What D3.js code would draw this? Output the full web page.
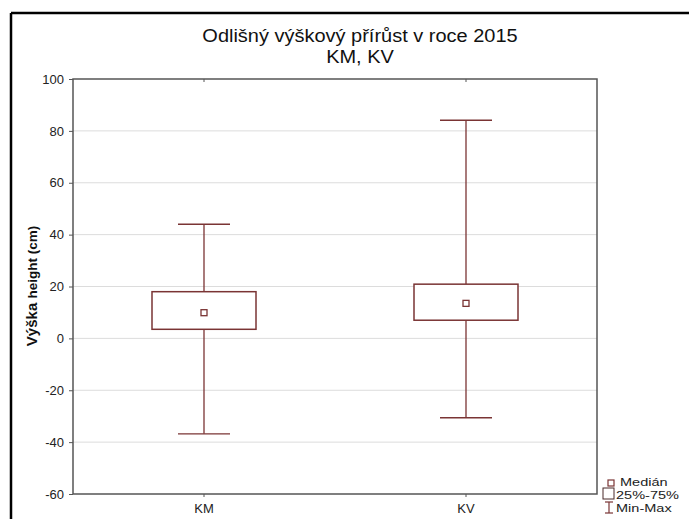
<!DOCTYPE html>
<html>
<head>
<meta charset="utf-8">
<script src="https://cdn.jsdelivr.net/npm/d3@7"></script>
<style>
  html, body { margin: 0; padding: 0; background: #fff; }
  svg { display: block; font-family: "Liberation Sans", Arial, sans-serif; }
</style>
</head>
<body>
<svg id="chart" width="689" height="519"></svg>
<script>
// Box plot data: groups and their summary statistics (cm)
const categories = ["KM", "KV"];
const minValues = [-36.8, -30.6];
const q1Values = [3.5, 7.0];
const medianValues = [9.9, 13.5];
const q3Values = [18.0, 20.9];
const maxValues = [44.0, 84.1];
const yTicks = [-60, -40, -20, 0, 20, 40, 60, 80, 100];

const titleLines = ["Odlišný výškový přírůst v roce 2015", "KM, KV"];
const legendLabels = ["Medián", "25%-75%", "Min-Max"];

const rows = categories.map((c, i) => ({
  cat: c, min: minValues[i], q1: q1Values[i], med: medianValues[i],
  q3: q3Values[i], max: maxValues[i]
}));

const svg = d3.select("#chart");
const boxColor = "#7a3434";
const fontFamily = "Liberation Sans, Arial, sans-serif";

// Figure frame (left and top edges visible)
svg.append("line").attr("x1", 11).attr("x2", 689).attr("y1", 13).attr("y2", 13)
  .attr("stroke", "#000").attr("stroke-width", 2.5);
svg.append("line").attr("x1", 11).attr("x2", 11).attr("y1", 13).attr("y2", 519)
  .attr("stroke", "#000").attr("stroke-width", 2.5);

const plot = { left: 73, right: 597, top: 79, bottom: 494 };

const x = d3.scaleBand().domain(categories)
  .range([plot.left, plot.right]).paddingInner(0.5).paddingOuter(0.25);
const y = d3.scaleLinear().domain([-60, 100]).range([plot.bottom, plot.top]);

// Title
svg.append("g").selectAll("text").data(titleLines).join("text")
  .attr("transform", (d, i) => `translate(360,${42 + i * 21}) scale(1.08,1)`)
  .attr("text-anchor", "middle").attr("font-size", 18.5).attr("fill", "#111")
  .text(d => d);

// Gridlines
svg.append("g").selectAll("line").data(yTicks.filter(t => t > -60 && t < 100)).join("line")
  .attr("x1", plot.left).attr("x2", plot.right)
  .attr("y1", d => y(d)).attr("y2", d => y(d))
  .attr("stroke", "#dcdcdc").attr("stroke-width", 1);

// Y axis
const yAxis = svg.append("g").attr("transform", `translate(${plot.left},0)`)
  .call(d3.axisLeft(y).tickValues(yTicks).tickFormat(d => String(d))
    .tickSize(4).tickPadding(5));
yAxis.select(".domain").remove();
yAxis.selectAll("line").attr("stroke", "#555");
yAxis.selectAll("text").attr("font-size", 13).attr("fill", "#222")
  .attr("font-family", fontFamily);

// X axis
const xAxis = svg.append("g").attr("transform", `translate(0,${plot.bottom})`)
  .call(d3.axisBottom(x).tickSize(3).tickPadding(7));
xAxis.select(".domain").remove();
xAxis.selectAll("line").attr("stroke", "#555");
xAxis.selectAll("text").attr("font-size", 13).attr("fill", "#222")
  .attr("font-family", fontFamily);

// Top ticks
svg.append("g").selectAll("line").data(categories).join("line")
  .attr("x1", d => x(d) + x.bandwidth() / 2).attr("x2", d => x(d) + x.bandwidth() / 2)
  .attr("y1", plot.top).attr("y2", plot.top + 3)
  .attr("stroke", "#555");

// Plot frame
svg.append("rect").attr("x", plot.left).attr("y", plot.top)
  .attr("width", plot.right - plot.left).attr("height", plot.bottom - plot.top)
  .attr("fill", "none").attr("stroke", "#555").attr("stroke-width", 1.5);

// Y label
const yl = svg.append("text")
  .attr("transform", `translate(37,286) rotate(-90)`)
  .attr("text-anchor", "middle").attr("font-weight", "bold").attr("fill", "#111");
yl.append("tspan").attr("font-size", 15).text("Výška ");
yl.append("tspan").attr("font-size", 13.5).text("height (cm)");

// Boxes
const boxHalf = 52, capHalf = 26;
const g = svg.append("g").selectAll("g").data(rows).join("g")
  .attr("transform", d => `translate(${x(d.cat) + x.bandwidth() / 2},0)`);

g.append("line").attr("x1", 0).attr("x2", 0)
  .attr("y1", d => y(d.max)).attr("y2", d => y(d.q3))
  .attr("stroke", boxColor).attr("stroke-width", 1.3);
g.append("line").attr("x1", 0).attr("x2", 0)
  .attr("y1", d => y(d.q1)).attr("y2", d => y(d.min))
  .attr("stroke", boxColor).attr("stroke-width", 1.3);
g.append("line").attr("x1", -capHalf).attr("x2", capHalf)
  .attr("y1", d => y(d.max)).attr("y2", d => y(d.max))
  .attr("stroke", boxColor).attr("stroke-width", 1.3);
g.append("line").attr("x1", -capHalf).attr("x2", capHalf)
  .attr("y1", d => y(d.min)).attr("y2", d => y(d.min))
  .attr("stroke", boxColor).attr("stroke-width", 1.3);
g.append("rect").attr("x", -boxHalf).attr("width", boxHalf * 2)
  .attr("y", d => y(d.q3)).attr("height", d => y(d.q1) - y(d.q3))
  .attr("fill", "#fff").attr("stroke", boxColor).attr("stroke-width", 1.5);
g.append("rect").attr("x", -3).attr("width", 6)
  .attr("y", d => y(d.med) - 3).attr("height", 6)
  .attr("fill", "#fff").attr("stroke", boxColor).attr("stroke-width", 1.3);

// Legend
const lg = svg.append("g");
lg.append("rect").attr("x", 608).attr("y", 480).attr("width", 6).attr("height", 6)
  .attr("fill", "#fff").attr("stroke", boxColor).attr("stroke-width", 1.2);
lg.append("rect").attr("x", 603).attr("y", 488).attr("width", 11).attr("height", 11)
  .attr("fill", "#fff").attr("stroke", "#4a2a2a").attr("stroke-width", 1);
lg.append("line").attr("x1", 609).attr("x2", 609).attr("y1", 502).attr("y2", 513)
  .attr("stroke", boxColor).attr("stroke-width", 1.2);
lg.append("line").attr("x1", 605).attr("x2", 613).attr("y1", 502).attr("y2", 502)
  .attr("stroke", boxColor).attr("stroke-width", 1.2);
lg.append("line").attr("x1", 605).attr("x2", 613).attr("y1", 513).attr("y2", 513)
  .attr("stroke", boxColor).attr("stroke-width", 1.2);
lg.selectAll("text").data(legendLabels).join("text")
  .attr("transform", (d, i) => `translate(${i === 0 ? 620 : 616},${486 + i * 13}) scale(1.32,1)`)
  .attr("font-size", 11).attr("fill", "#222")
  .text(d => d);
</script>
</body>
</html>
